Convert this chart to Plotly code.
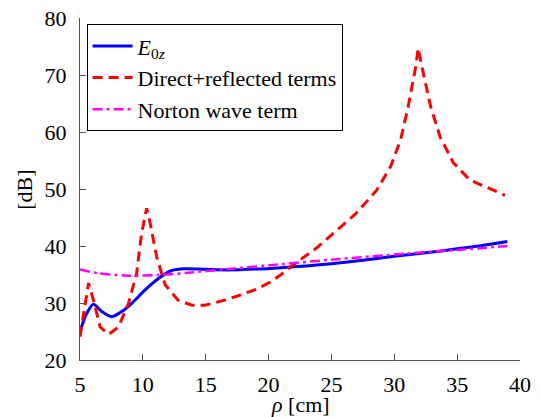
import plotly.graph_objects as go

# E0z (blue solid)
rho_e = [5.0, 5.54, 6.07, 6.73, 7.53, 8.32, 9.12, 10.18, 11.24, 12.3, 13.36, 15.0, 16.8, 19.0, 21.0, 23.0, 25.0, 27.5, 30.0, 32.5, 35.0, 37.0, 39.0]
e0z = [25.0, 28.2, 29.8, 28.5, 27.6, 28.5, 29.95, 32.3, 34.3, 35.7, 36.0, 35.9, 35.8, 35.95, 36.2, 36.5, 36.9, 37.5, 38.2, 38.8, 39.5, 40.1, 40.8]

# Direct+reflected terms (red dashed)
rho_d = [5.0, 5.3, 5.68, 6.07, 6.6, 7.27, 8.06, 8.86, 9.5, 9.9, 10.3, 10.58, 11.1, 11.77, 12.8, 13.9, 14.95, 16.5, 17.5, 19.0, 20.0, 20.94, 21.97, 23.9, 25.2, 27.0, 28.6, 29.7, 30.5, 31.1, 31.7, 31.9, 32.3, 32.9, 33.65, 34.7, 36.0, 37.4, 38.8]
direct = [24.1, 28.5, 33.5, 30.5, 25.8, 24.5, 25.8, 29.95, 35.2, 42.2, 46.6, 44.0, 38.1, 33.2, 30.5, 29.6, 29.6, 30.5, 31.2, 32.4, 33.5, 34.9, 36.7, 39.8, 42.3, 45.8, 49.8, 53.9, 58.6, 64.4, 71.4, 74.7, 70.4, 64.4, 59.1, 54.6, 51.6, 50.2, 48.9]

# Norton wave term (magenta dash-dot)
rho_n = [5.0, 6.47, 8.86, 11.2, 13.6, 16.5, 20.0, 25.0, 30.0, 35.0, 39.0]
norton = [35.9, 35.2, 34.8, 34.9, 35.3, 35.9, 36.6, 37.6, 38.5, 39.3, 40.0]

xticks = [5, 10, 15, 20, 25, 30, 35, 40]
yticks = [20, 30, 40, 50, 60, 70, 80]

font = "Liberation Serif"
fsize = 22

fig = go.Figure()
fig.add_trace(go.Scatter(x=rho_e, y=e0z, mode="lines", name="<i>E</i><sub>0<i>z</i></sub>",
                         line=dict(color="#0000ff", width=3, shape="spline", smoothing=0.8)))
fig.add_trace(go.Scatter(x=rho_d, y=direct, mode="lines", name="Direct+reflected terms",
                         line=dict(color="#ff0000", width=3, dash="10px,6px")))
fig.add_trace(go.Scatter(x=rho_n, y=norton, mode="lines", name="Norton wave term",
                         line=dict(color="#ff00ff", width=2.5, dash="10px,4px,3px,4px", shape="spline", smoothing=0.8)))

axis_common = dict(showgrid=False, zeroline=False, showline=True, linecolor="#555555", linewidth=1.2,
                   ticks="inside", ticklen=6, tickcolor="#555555", tickwidth=1, automargin=False,
                   ticklabeloverflow="allow",
                   tickfont=dict(family=font, size=fsize, color="black"), mirror=False)

# page body has an 8px default margin; compensate in figure size/margins
fig.update_layout(
    width=533, height=409,
    margin=dict(l=71.5, r=21, t=10, b=57),
    paper_bgcolor="white", plot_bgcolor="white",
    font=dict(family=font, size=fsize, color="black"),
    xaxis=dict(range=[5, 40], tickvals=xticks, ticklabelstandoff=4, **axis_common),
    yaxis=dict(range=[20, 80], tickvals=yticks, ticklabelstandoff=8, **axis_common),
    legend=dict(x=0.015, y=0.982, xanchor="left", yanchor="top", bgcolor="white",
                bordercolor="black", borderwidth=1, font=dict(family=font, size=fsize, color="black"),
                tracegroupgap=0, itemwidth=40),
    showlegend=True,
    annotations=[
        dict(text="<i>ρ</i> [cm]", xref="paper", yref="paper", x=0.5, y=-0.131,
             xanchor="center", yanchor="middle", showarrow=False, font=dict(family=font, size=fsize, color="black")),
        dict(text="[dB]", xref="paper", yref="paper", x=-0.128, y=0.497, textangle=-90,
             xanchor="center", yanchor="middle", showarrow=False, font=dict(family=font, size=fsize, color="black")),
    ],
)

fig.write_html("out.html")
